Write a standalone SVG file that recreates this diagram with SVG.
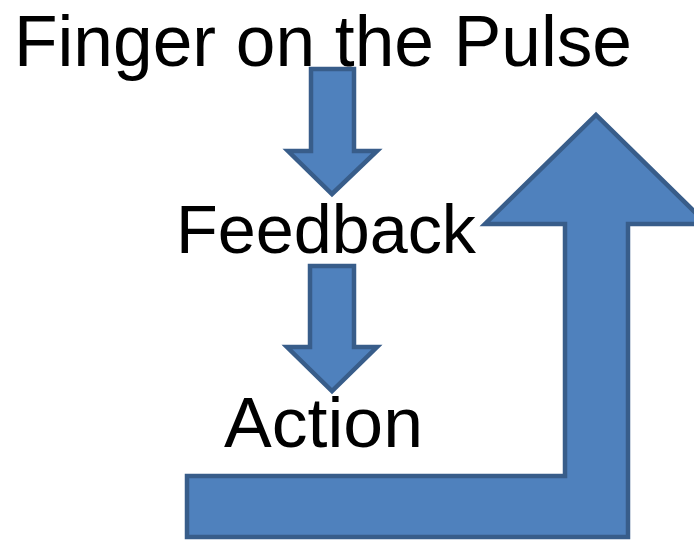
<svg xmlns="http://www.w3.org/2000/svg" width="694" height="540" viewBox="0 0 694 540">
  <style>
    .arrow { fill: #4F81BD; stroke: #385D8A; stroke-width: 4.5; stroke-linejoin: miter; }
    .label { font-family: "Liberation Sans", Arial, sans-serif; fill: #000000; }
  </style>
  <rect width="694" height="540" fill="#FFFFFF"/>

  <!-- connectors -->
  <g id="connectors">
    <!-- Finger on the Pulse -> Feedback -->
    <path class="arrow" d="M311,69 L354,69 L354,151 L377,151 L332,194 L288,151 L311,151 Z"/>
    <!-- Feedback -> Action -->
    <path class="arrow" d="M310,266 L354,266 L354,347 L377,347 L332,391 L287,347 L310,347 Z"/>
    <!-- Action loops back up -->
    <path class="arrow" d="M187,476 L565,476 L565,224 L485,224 L596,115 L707,224 L628,224 L628,537 L187,537 Z"/>
  </g>

  <g id="finger">
    <text class="label" x="14" y="66" font-size="73" textLength="618" lengthAdjust="spacingAndGlyphs">Finger on the Pulse</text>
  </g>
  <g id="feedback">
    <text class="label" x="176" y="253" font-size="68" textLength="300" lengthAdjust="spacingAndGlyphs">Feedback</text>
  </g>
  <g id="action">
    <text class="label" x="224" y="447" font-size="70" textLength="199" lengthAdjust="spacingAndGlyphs">Action</text>
  </g>
</svg>
